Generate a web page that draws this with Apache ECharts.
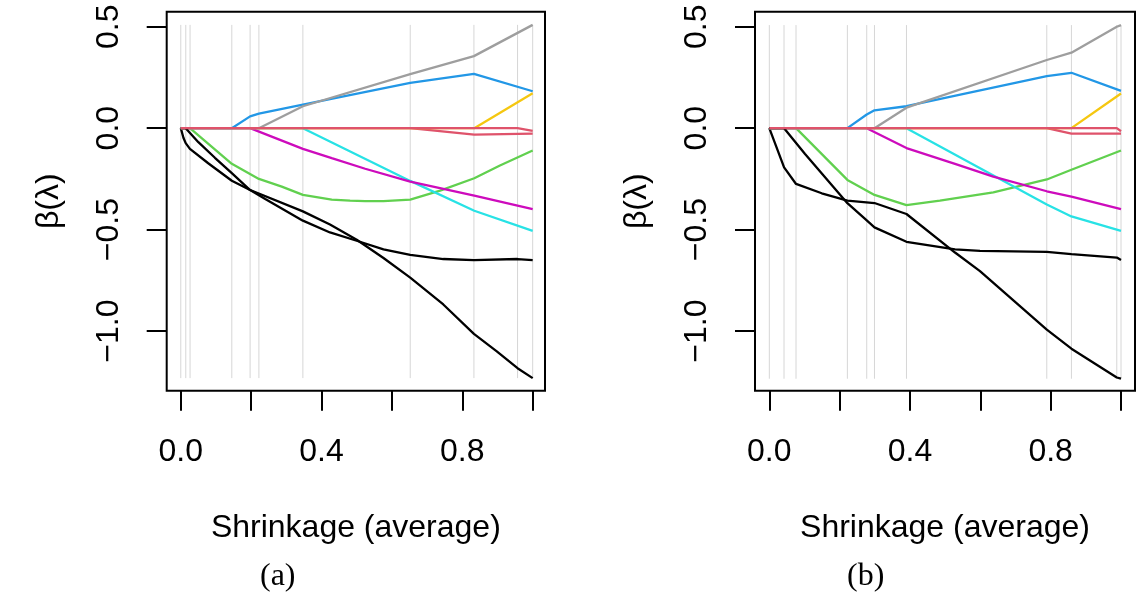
<!DOCTYPE html>
<html>
<head>
<meta charset="utf-8">
<script src="https://cdn.jsdelivr.net/npm/echarts@6/dist/echarts.min.js"></script>
<style>
  html, body { margin: 0; padding: 0; background: #fff; }
  #chart { width: 1142px; height: 596px; }
</style>
</head>
<body>
<div id="chart"></div>
<script>
// Coefficient paths beta(lambda) against average shrinkage, two fits.
// Each path is a list of [shrinkage, beta] pairs.

// ---- panel (a) ----
const knotsA = [0, 0.0142, 0.0264, 0.145, 0.197, 0.222, 0.347, 0.652, 0.833, 0.957, 1.0];
const a1 = [[0,0],[0.0075,-0.047],[0.014,-0.074],[0.026,-0.102],[0.078,-0.173],[0.145,-0.259],[0.197,-0.305],[0.347,-0.41],[0.424,-0.475],[0.5,-0.55],[0.576,-0.64],[0.652,-0.737],[0.746,-0.869],[0.833,-1.014],[0.898,-1.1],[0.957,-1.183],[1.0,-1.232]];
const a2 = [[0,0],[0.652,0],[0.834,-0.032],[1.0,-0.027]];
const a3 = [[0,0],[0.026,0],[0.145,-0.176],[0.222,-0.25],[0.287,-0.288],[0.347,-0.329],[0.429,-0.352],[0.481,-0.357],[0.524,-0.36],[0.576,-0.36],[0.652,-0.352],[0.737,-0.308],[0.834,-0.247],[0.907,-0.184],[1.0,-0.11]];
const a4 = [[0,0],[0.145,0],[0.197,0.058],[0.222,0.072],[0.347,0.116],[0.652,0.223],[0.833,0.268],[1.0,0.182]];
const a5 = [[0,0],[0.347,0],[0.652,-0.26],[0.834,-0.407],[1.0,-0.506]];
const a6 = [[0,0],[0.197,0],[0.347,-0.102],[0.429,-0.148],[0.524,-0.2],[0.652,-0.263],[0.834,-0.333],[1.0,-0.399]];
const a7 = [[0,0],[0.834,0],[1.0,0.172]];
const a8 = [[0,0],[0.222,0],[0.347,0.108],[0.652,0.266],[0.833,0.355],[1.0,0.509]];
const a9 = [[0,0],[0.014,0],[0.05,-0.069],[0.097,-0.146],[0.145,-0.222],[0.197,-0.305],[0.24,-0.349],[0.347,-0.456],[0.424,-0.514],[0.5,-0.555],[0.576,-0.597],[0.652,-0.625],[0.746,-0.645],[0.833,-0.65],[0.957,-0.645],[1.0,-0.65]];
const a10 = [[0,0],[0.957,0],[1.0,-0.013]];

// ---- panel (b) ----
const knotsB = [0, 0.0418, 0.0759, 0.222, 0.277, 0.299, 0.39, 0.789, 0.859, 0.988, 1.0];
const b1 = [[0,0],[0.042,-0.193],[0.076,-0.275],[0.149,-0.321],[0.222,-0.357],[0.299,-0.369],[0.39,-0.423],[0.528,-0.613],[0.599,-0.705],[0.789,-0.993],[0.859,-1.087],[0.988,-1.229],[1.0,-1.235]];
const b2 = [[0,0],[0.789,0],[0.859,-0.027],[1.0,-0.027]];
const b3 = [[0,0],[0.076,0],[0.222,-0.255],[0.299,-0.329],[0.39,-0.379],[0.485,-0.357],[0.637,-0.316],[0.789,-0.253],[0.859,-0.205],[1.0,-0.11]];
const b4 = [[0,0],[0.222,0],[0.277,0.067],[0.299,0.088],[0.39,0.108],[0.789,0.256],[0.859,0.273],[1.0,0.184]];
const b5 = [[0,0],[0.39,0],[0.789,-0.376],[0.859,-0.435],[1.0,-0.506]];
const b6 = [[0,0],[0.277,0],[0.39,-0.098],[0.528,-0.176],[0.637,-0.239],[0.789,-0.311],[0.859,-0.338],[1.0,-0.399]];
const b7 = [[0,0],[0.859,0],[1.0,0.171]];
const b8 = [[0,0],[0.299,0],[0.39,0.101],[0.789,0.336],[0.859,0.372],[0.988,0.5],[1.0,0.508]];
const b9 = [[0,0],[0.042,0],[0.101,-0.126],[0.222,-0.37],[0.277,-0.455],[0.299,-0.489],[0.39,-0.56],[0.528,-0.597],[0.599,-0.605],[0.789,-0.61],[0.859,-0.621],[0.988,-0.638],[1.0,-0.65]];
const b10 = [[0,0],[0.988,0],[1.0,-0.015]];

// tick positions and captions
const xTicks = [0, 0.2, 0.4, 0.6, 0.8, 1.0];
const xTickLabels = [0, 0.4, 0.8];
const yTicks = [-1.0, -0.5, 0.0, 0.5];
const captions = ['(a)', '(b)'];
const xTitle = 'Shrinkage (average)';
const yTitle = '\u03b2(\u03bb)';

// default R palette, recycled for variables 9 and 10
const palette = ['#000000', '#DF536B', '#61D04F', '#2297E6', '#28E2E5', '#CD0BBC', '#F5C710', '#9E9E9E'];

const panels = [
  { paths: [a1, a2, a3, a4, a5, a6, a7, a8, a9, a10], knots: knotsA,
    grid: { left: 166.7, top: 11.7, width: 378.3, height: 379 }, xMin: -0.04, xMax: 1.035, capX: 280 },
  { paths: [b1, b2, b3, b4, b5, b6, b7, b8, b9, b10], knots: knotsB,
    grid: { left: 755, top: 11.7, width: 380, height: 379 }, xMin: -0.0407, xMax: 1.0398, capX: 867 }
];

const FONT = 'Liberation Sans, Arial, Helvetica, sans-serif';
const fmt = v => {
  const s = Math.abs(v).toFixed(1);
  return v < -1e-9 ? '\u2212' + s : s;
};

const grids = [], xAxes = [], yAxes = [], series = [], graphics = [];

panels.forEach((p, i) => {
  grids.push(Object.assign({ show: true, borderColor: '#000', borderWidth: 2, backgroundColor: 'transparent' }, p.grid));

  xAxes.push({
    type: 'value', gridIndex: i, min: p.xMin, max: p.xMax, position: 'bottom',
    name: xTitle, nameLocation: 'middle', nameGap: 121,
    nameTextStyle: { fontFamily: FONT, fontSize: 32, color: '#000' },
    axisLine: { show: false, onZero: false },
    axisTick: { show: true, inside: false, length: 20, customValues: xTicks, lineStyle: { color: '#000', width: 2 } },
    axisLabel: { show: true, margin: 45, customValues: xTickLabels, formatter: fmt,
      fontFamily: FONT, fontSize: 32, color: '#000' },
    splitLine: { show: false }
  });

  yAxes.push({
    type: 'value', gridIndex: i, min: -1.294, max: 0.574, position: 'left',
    name: yTitle, nameLocation: 'middle', nameGap: 102,
    nameTextStyle: { fontFamily: FONT, fontSize: 32, color: '#000' },
    axisLine: { show: false, onZero: false },
    axisTick: { show: true, inside: false, length: 20, customValues: yTicks, lineStyle: { color: '#000', width: 2 } },
    axisLabel: { show: true, margin: 42, rotate: 90, customValues: yTicks, formatter: fmt,
      fontFamily: FONT, fontSize: 32, color: '#000' },
    splitLine: { show: false }
  });

  // vertical guide lines at each knot, spanning the range of the paths
  let lo = Infinity, hi = -Infinity;
  p.paths.forEach(path => path.forEach(pt => { lo = Math.min(lo, pt[1]); hi = Math.max(hi, pt[1]); }));
  p.knots.forEach(k => {
    series.push({
      type: 'line', xAxisIndex: i, yAxisIndex: i, silent: true, symbol: 'none',
      data: [[k, lo], [k, hi]],
      lineStyle: { color: '#d6d6d6', width: 1 }, z: 1
    });
  });

  // coefficient paths, in variable order
  p.paths.forEach((path, j) => {
    series.push({
      type: 'line', xAxisIndex: i, yAxisIndex: i, silent: true, symbol: 'none',
      data: path,
      lineStyle: { color: palette[j % palette.length], width: 2.3 }, z: 2
    });
  });

  graphics.push({
    type: 'text', left: p.capX - 20, top: 561,
    style: { text: captions[i], font: '32px "Liberation Serif", "Times New Roman", serif', fill: '#000' }
  });
});

const chart = echarts.init(document.getElementById('chart'), null, { renderer: 'canvas' });
chart.setOption({
  animation: false,
  backgroundColor: '#fff',
  grid: grids,
  xAxis: xAxes,
  yAxis: yAxes,
  series: series,
  graphic: graphics
});
</script>
</body>
</html>
